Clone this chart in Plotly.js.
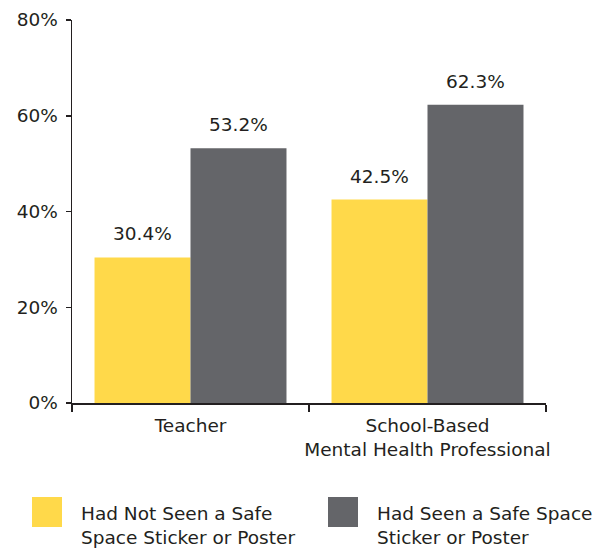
<!DOCTYPE html>
<html><head><meta charset="utf-8">
<script src="https://cdn.plot.ly/plotly-3.0.1.min.js"></script>
<style>body{margin:0;background:#fff}#chart{width:606px;height:548px}</style>
</head><body><div id="chart"></div>
<script>
const categories = ["Teacher", "School-Based<br>Mental Health Professional"];
const seriesNames = ["Had Not Seen a Safe<br>Space Sticker or Poster", "Had Seen a Safe Space<br>Sticker or Poster"];
const notSeen = [30.4, 42.5];
const seen = [53.2, 62.3];
const colors = ["#FFD94A", "#646569"];
const yTicks = [0, 20, 40, 60, 80];

const W = 606, H = 548, L = 72, R = 60, T = 20, B = 145;
const pw = W - L - R, ph = H - T - B;
const px = x => (x - L) / pw;
const py = y => (H - B - y) / ph;
const font = "DejaVu Sans, Liberation Sans, sans-serif";
const fs = 18.5;
const txt = "#231f20";

const traces = [notSeen, seen].map((vals, i) => ({
  type: "bar", x: categories, y: vals, name: seriesNames[i],
  marker: {color: colors[i]}, showlegend: false, hoverinfo: "skip"
}));

const bargap = 0.19;
const half = (1 - bargap) / 2;
const annotations = [];
[notSeen, seen].forEach((vals, i) => {
  vals.forEach((v, j) => {
    annotations.push({
      x: j + (i === 0 ? -half / 2 : half / 2), y: v, xref: "x", yref: "y",
      text: v.toFixed(1) + "%", showarrow: false, yanchor: "bottom", yshift: 11,
      font: {family: font, size: fs, color: txt}
    });
  });
});
// legend
const legendX = [32, 328];
const shapes = [];
seriesNames.forEach((n, i) => {
  shapes.push({type: "rect", xref: "paper", yref: "paper",
    x0: px(legendX[i]), x1: px(legendX[i] + 30), y0: py(527), y1: py(497),
    fillcolor: colors[i], line: {width: 0}});
  annotations.push({xref: "paper", yref: "paper", x: px(legendX[i] + 47), y: py(525),
    xanchor: "left", yanchor: "middle", align: "left", showarrow: false, text: n,
    font: {family: font, size: fs, color: txt}});
});

const layout = {
  width: W, height: H, margin: {l: L, r: R, t: T, b: B, pad: 0},
  paper_bgcolor: "#fff", plot_bgcolor: "#fff",
  barmode: "group", bargap: bargap, bargroupgap: 0,
  font: {family: font, size: fs, color: txt},
  xaxis: {type: "category", tickson: "boundaries", ticks: "outside", ticklen: 7, tickwidth: 1.5,
    tickcolor: txt, showline: true, linecolor: txt, linewidth: 1.5, showgrid: false,
    ticklabelstandoff: 5, tickangle: 0,
    tickfont: {family: font, size: fs, color: txt}, fixedrange: true},
  yaxis: {range: [0, 80], tickvals: yTicks, ticktext: yTicks.map(t => t + "%"),
    ticks: "outside", ticklen: 5, tickwidth: 1.5, tickcolor: txt, showline: true,
    linecolor: txt, linewidth: 1.5, showgrid: false, zeroline: false,
    ticklabelstandoff: 4,
    tickfont: {family: font, size: fs, color: txt}, fixedrange: true},
  annotations: annotations, shapes: shapes, showlegend: false
};
Plotly.newPlot("chart", traces, layout, {displayModeBar: false, staticPlot: true});
</script></body></html>
